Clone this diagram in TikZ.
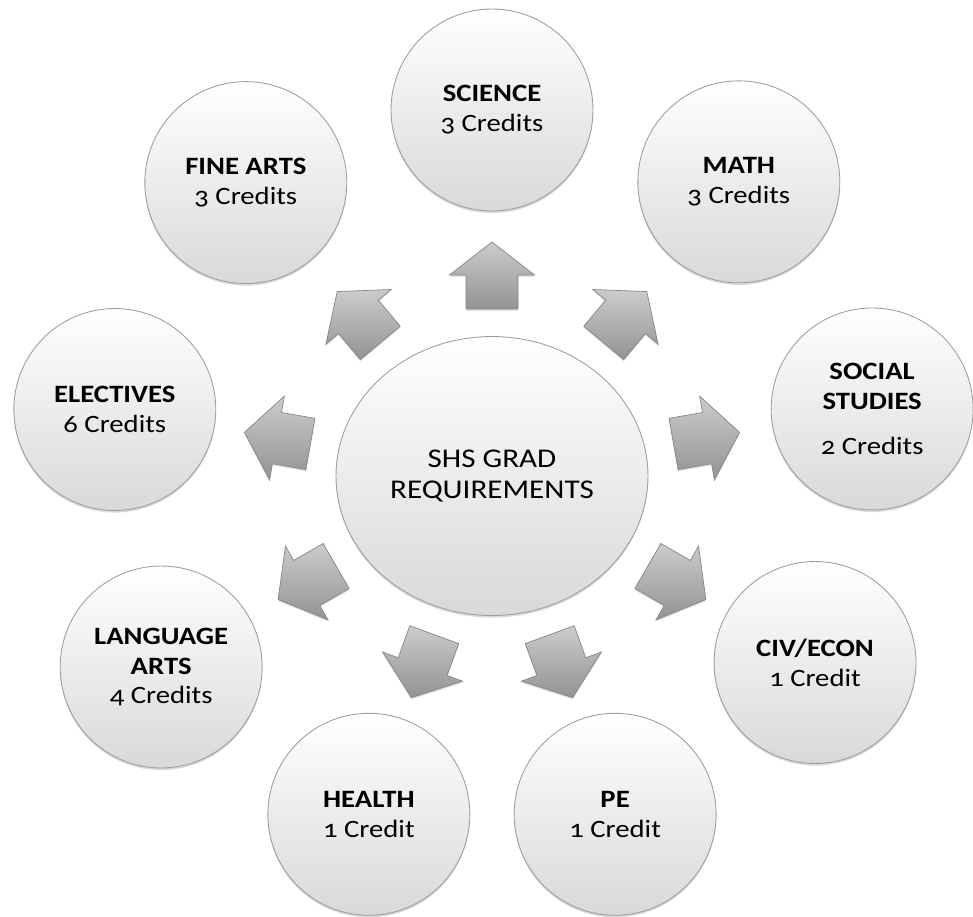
\documentclass[tikz,border=0pt]{standalone}
\usepackage{fontspec}
\setmainfont{Carlito}[FakeStretch=1.15,Numbers=OldStyle]
\usetikzlibrary{shapes.geometric,shadows}

\tikzset{
  subject/.style={circle, draw=gray!75, line width=0.5pt, top color=white, bottom color=gray!30,
    minimum size=4.04cm, inner sep=0pt, align=center, font=\fontsize{14.2pt}{17pt}\selectfont,
    drop shadow={opacity=0.3, shadow xshift=0pt, shadow yshift=-1.2pt}},
  hub/.style={subject, ellipse, minimum width=6.24cm, minimum height=5.58cm,
    font=\fontsize{15.4pt}{17.4pt}\selectfont},
  flow/.style={draw=gray!95, line width=0.4pt, top color=gray!40, bottom color=gray!85,
    drop shadow={opacity=0.25, shadow xshift=0pt, shadow yshift=-1pt}}
}

\begin{document}
\begin{tikzpicture}[x=0.02cm, y=0.02cm]
  \useasboundingbox (-492,-440) rectangle (481,476);

  \node[hub] (hub) at (0,0) {SHS GRAD\\REQUIREMENTS};

  \foreach \a/\d/\n/\t in {
      90/366/science/{\textbf{SCIENCE}\\3 Credits},
      50/384/math/{\textbf{MATH}\\3 Credits},
      10/386/social/{\textbf{SOCIAL}\\\textbf{STUDIES}\\[0.32cm]2 Credits},
      -30/373/civecon/{\textbf{CIV/ECON}\\1 Credit},
      -70/360/pe/{\textbf{PE}\\1 Credit},
      -110/360/health/{\textbf{HEALTH}\\1 Credit},
      -150/382/langarts/{\textbf{LANGUAGE}\\\textbf{ARTS}\\4 Credits},
      170/383/electives/{\textbf{ELECTIVES}\\6 Credits},
      130/383/finearts/{\textbf{FINE ARTS}\\3 Credits}}
    \node[subject] (\n) at (\a:\d) {\t};

  \foreach \a in {90,50,10,-30,-70,-110,-150,170,130}{
    \pgfmathsetmacro\r{100*1.85*1.67/sqrt((1.67*cos(\a))^2+(1.85*sin(\a))^2)}
    \shade[flow, shift={(\a:\r)}, rotate=\a]
      (0,-26) -- (34,-26) -- (34,-42.5) -- (67,0) -- (34,42.5) -- (34,26) -- (0,26) -- cycle;
  }
\end{tikzpicture}
\end{document}
